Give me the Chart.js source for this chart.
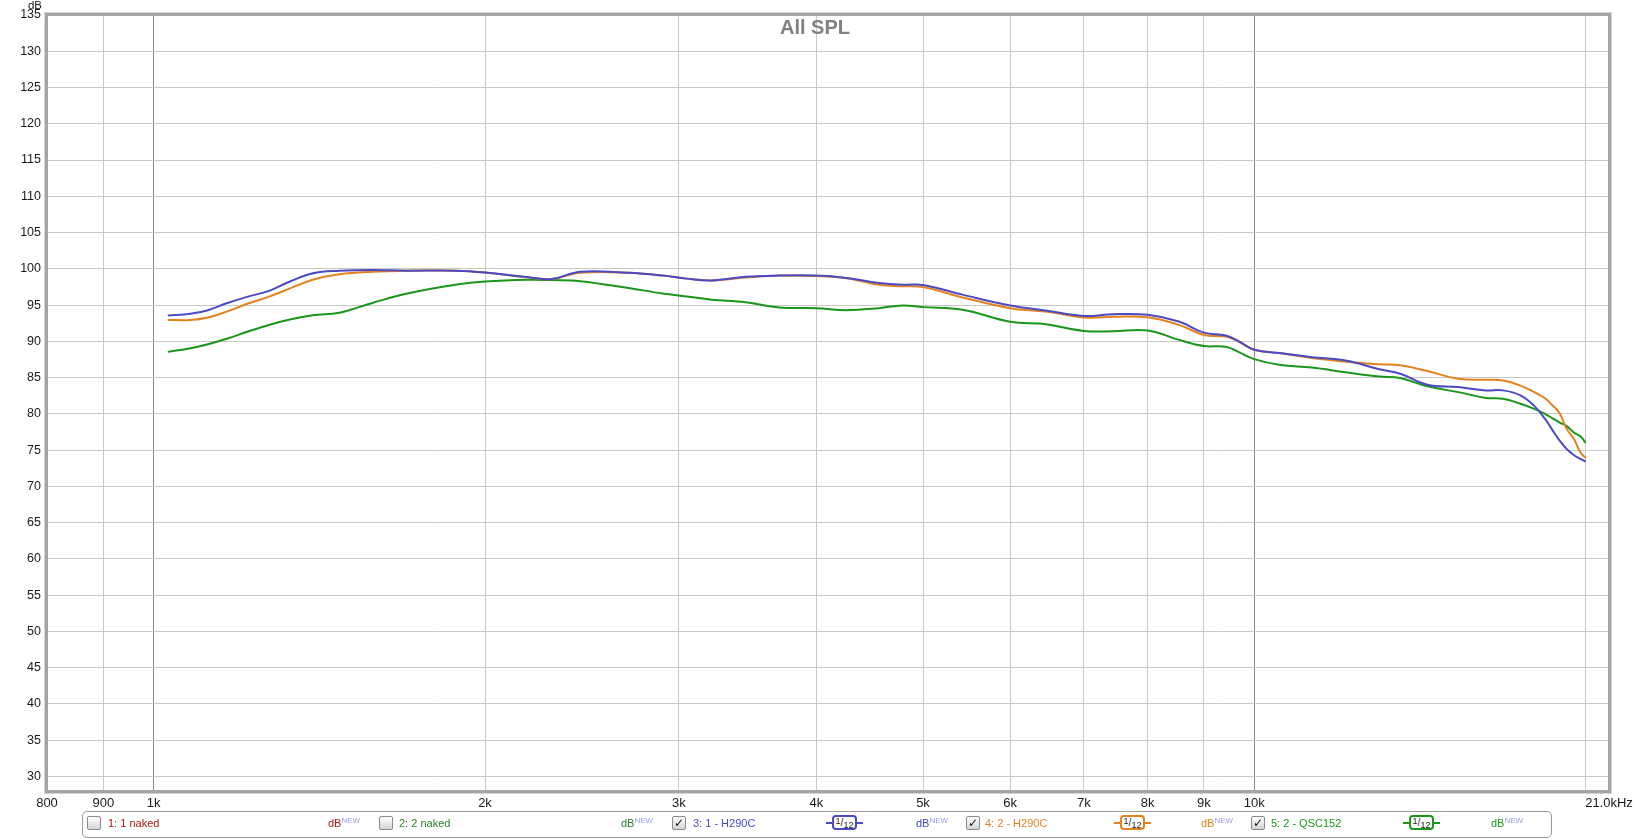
<!DOCTYPE html>
<html><head><meta charset="utf-8">
<script src="https://cdn.jsdelivr.net/npm/chart.js@4.4.1/dist/chart.umd.min.js"></script>
<style>
html,body{margin:0;padding:0;background:#fff;}
#wrap{position:relative;width:1633px;height:839px;overflow:hidden;font-family:"Liberation Sans",Arial,sans-serif;}
canvas{position:absolute;left:0;top:0;}
.t{position:absolute;white-space:nowrap;}
#title{left:715px;width:200px;text-align:center;top:17px;font-size:20px;line-height:20px;font-weight:bold;color:#808080;}
#unit{right:1591px;top:0px;font-size:11.5px;line-height:11px;color:#1a1a1a;}
#legend{position:absolute;left:82px;top:811px;width:1468px;height:25px;border:1px solid #9a9a9a;border-radius:5px;}
.cb{position:absolute;top:4px;width:12px;height:12px;border:1px solid #8a8a8a;border-radius:2px;background:linear-gradient(#ffffff,#d4d4d4);font-family:"DejaVu Sans",sans-serif;font-weight:bold;font-size:12px;line-height:12px;text-align:center;color:#111;}
.lt{position:absolute;top:5px;font-size:11px;line-height:13px;white-space:nowrap;}
.db{position:absolute;top:5px;font-size:11px;line-height:13px;white-space:nowrap;}
.db span{font-size:8px;color:#9a9af0;position:relative;top:-4px;}
.ic{position:absolute;top:3px;width:37px;height:15px;}
.ic .st{position:absolute;top:7px;height:2px;width:37px;left:0;}
.ic .bx{position:absolute;left:6px;top:0;width:21px;height:11px;border:2px solid;border-radius:4px;background:#fff;font-size:10px;line-height:11px;color:#222;text-align:center;white-space:nowrap;}
.ic .bx i{font-style:normal;font-size:9px;position:relative;top:-2px;}
.ic .bx b{font-weight:normal;font-size:9px;position:relative;top:2px;}
</style></head><body>
<div id="wrap">
<canvas id="c" width="1633" height="839"></canvas>
<div class="t" id="title">All SPL</div>
<div class="t" id="unit">dB</div>
<div id="legend"></div>
</div>
<script>
// ---- data ----
const freqs = [1030, 1080, 1120, 1165, 1220, 1275, 1330, 1395, 1475, 1580,
  1700, 1880, 2000, 2190, 2300, 2440, 2700, 2900, 3050, 3210,
  3450, 3700, 4000, 4260, 4560, 4790, 5000, 5430, 6000, 6460,
  7000, 7440, 8000, 8540, 9000, 9420, 9680, 10000, 10540, 11280,
  12100, 12990, 13570, 14360, 15320, 16230, 16820, 17450, 17960, 18370,
  18650, 18940, 19210, 19520, 19780, 20000];
const h290c_1 = [93.55, 93.8, 94.3, 95.25, 96.2, 97.0, 98.25, 99.4, 99.75, 99.85,
  99.75, 99.75, 99.5, 98.85, 98.6, 99.6, 99.45, 99.07, 98.65, 98.4,
  98.9, 99.07, 99.07, 98.75, 98.06, 97.8, 97.78, 96.44, 94.95, 94.26,
  93.5, 93.75, 93.66, 92.73, 91.2, 90.8, 90.0, 88.84, 88.38, 87.82,
  87.36, 86.16, 85.54, 84.02, 83.7, 83.24, 83.24, 82.55, 81.1, 79.3,
  77.8, 76.3, 75.2, 74.3, 73.8, 73.4];
const h290c_2 = [92.95, 92.95, 93.3, 94.1, 95.25, 96.2, 97.3, 98.5, 99.25, 99.6,
  99.75, 99.75, 99.5, 98.8, 98.6, 99.45, 99.45, 99.07, 98.65, 98.4,
  98.8, 99.07, 99.0, 98.7, 97.8, 97.6, 97.5, 96.06, 94.58, 94.1,
  93.3, 93.38, 93.33, 92.27, 90.88, 90.65, 89.95, 88.84, 88.38, 87.7,
  87.2, 86.85, 86.7, 85.9, 84.85, 84.7, 84.6, 83.9, 83.0, 82.15,
  81.2, 80.1, 78.0, 76.5, 74.7, 73.9];
const qsc152 = [88.55, 89.05, 89.6, 90.35, 91.4, 92.3, 93.0, 93.6, 93.95, 95.3,
  96.6, 97.8, 98.25, 98.5, 98.45, 98.3, 97.36, 96.6, 96.2, 95.75,
  95.4, 94.68, 94.58, 94.3, 94.58, 94.95, 94.72, 94.35, 92.7, 92.36,
  91.44, 91.4, 91.5, 90.2, 89.35, 89.26, 88.52, 87.55, 86.76, 86.4,
  85.74, 85.14, 84.94, 83.8, 83.0, 82.2, 82.1, 81.4, 80.7, 80.0,
  79.4, 78.8, 78.35, 77.4, 76.9, 76.0];
const yTicks = [30, 35, 40, 45, 50, 55, 60, 65, 70, 75, 80, 85, 90, 95, 100, 105, 110, 115, 120, 125, 130, 135];
const xTickValues = [800, 900, 1000, 2000, 3000, 4000, 5000, 6000, 7000, 8000, 9000, 10000, 20000, 21000];
const xTickLabels = ['800', '900', '1k', '2k', '3k', '4k', '5k', '6k', '7k', '8k', '9k', '10k', '', '21.0kHz'];
const seriesNames = ['3: 1 - H290C', '4: 2 - H290C', '5: 2 - QSC152'];
const seriesColors = ['#4a4ac4', '#e6821e', '#1a961a'];

// ---- legend bar ----
const legendItems = [
  {cb: 4, checked: false, text: '1: 1 naked', tx: 25, color: '#b01818', icon: null, db: 245},
  {cb: 296, checked: false, text: '2: 2 naked', tx: 316, color: '#2a7a2a', icon: null, db: 538},
  {cb: 589, checked: true, text: seriesNames[0], tx: 610, color: seriesColors[0], icon: 743, db: 833},
  {cb: 883, checked: true, text: seriesNames[1], tx: 902, color: seriesColors[1], icon: 1031, db: 1118},
  {cb: 1168, checked: true, text: seriesNames[2], tx: 1188, color: seriesColors[2], icon: 1320, db: 1408}
];
const lg = document.getElementById('legend');
legendItems.forEach(it => {
  const cb = document.createElement('div'); cb.className = 'cb'; cb.style.left = it.cb + 'px';
  cb.textContent = it.checked ? '✓' : ''; lg.appendChild(cb);
  const t = document.createElement('div'); t.className = 'lt'; t.style.left = it.tx + 'px'; t.style.color = it.color;
  t.textContent = it.text; lg.appendChild(t);
  if (it.icon !== null) {
    const ic = document.createElement('div'); ic.className = 'ic'; ic.style.left = it.icon + 'px';
    ic.innerHTML = '<div class="st" style="background:' + it.color + '"></div><div class="bx" style="border-color:' + it.color + '"><i>1</i>/<b>12</b></div>';
    lg.appendChild(ic);
  }
  const d = document.createElement('div'); d.className = 'db'; d.style.left = it.db + 'px'; d.style.color = it.color;
  d.innerHTML = 'dB<span>NEW</span>'; lg.appendChild(d);
});

// ---- chart ----
const framePlugin = {
  id: 'frame',
  afterDraw(chart) {
    const {left, top, right, bottom} = chart.chartArea;
    const ctx = chart.ctx;
    ctx.save();
    ctx.strokeStyle = '#d4d4d4'; ctx.lineWidth = 1;
    ctx.strokeRect(left - 2.5, top - 2.5, right - left + 5, bottom - top + 5);
    ctx.strokeStyle = '#a4a4a4'; ctx.lineWidth = 3;
    ctx.strokeRect(left - 0.5, top - 0.5, right - left + 1, bottom - top + 1);
    ctx.restore();
  }
};
const toPts = arr => freqs.map((f, i) => ({x: f, y: arr[i]}));
const tickFont = {family: '"Liberation Sans", Arial, sans-serif', size: 12.5};
new Chart(document.getElementById('c'), {
  type: 'line',
  data: {
    datasets: [h290c_1, h290c_2, qsc152].map((arr, k) => ({
      label: seriesNames[k], data: toPts(arr), borderColor: seriesColors[k], borderWidth: 2,
      pointRadius: 0, fill: false, tension: 0.4
    }))
  },
  options: {
    responsive: false, animation: false, devicePixelRatio: 1,
    layout: {padding: {left: 0, top: 15, right: 24, bottom: 26}},
    plugins: {legend: {display: false}, tooltip: {enabled: false}},
    scales: {
      x: {
        type: 'logarithmic', min: 800, max: 21000,
        afterBuildTicks: s => { s.ticks = xTickValues.map(v => ({value: v})); },
        afterFit: s => { s.height = 22; s.paddingLeft = 0; s.paddingRight = 0; },
        ticks: {autoSkip: false, maxRotation: 0, minRotation: 0, padding: 5, color: '#1a1a1a',
          font: {family: tickFont.family, size: 13},
          callback: v => { const i = xTickValues.indexOf(v); return i >= 0 ? xTickLabels[i] : ''; }},
        grid: {drawTicks: false, lineWidth: 1,
          color: c => (c.tick && (c.tick.value === 1000 || c.tick.value === 10000)) ? '#8a8a8a' : '#c8c8c8'},
        border: {display: false}
      },
      y: {
        min: 28, max: 135,
        afterBuildTicks: s => { s.ticks = yTicks.map(v => ({value: v})); },
        afterFit: s => { s.width = 47; s.paddingTop = 0; s.paddingBottom = 0; },
        ticks: {padding: 6, color: '#1a1a1a', font: tickFont},
        grid: {drawTicks: false, color: '#c8c8c8', lineWidth: 1},
        border: {display: false}
      }
    }
  },
  plugins: [framePlugin]
});
</script>
</body></html>
